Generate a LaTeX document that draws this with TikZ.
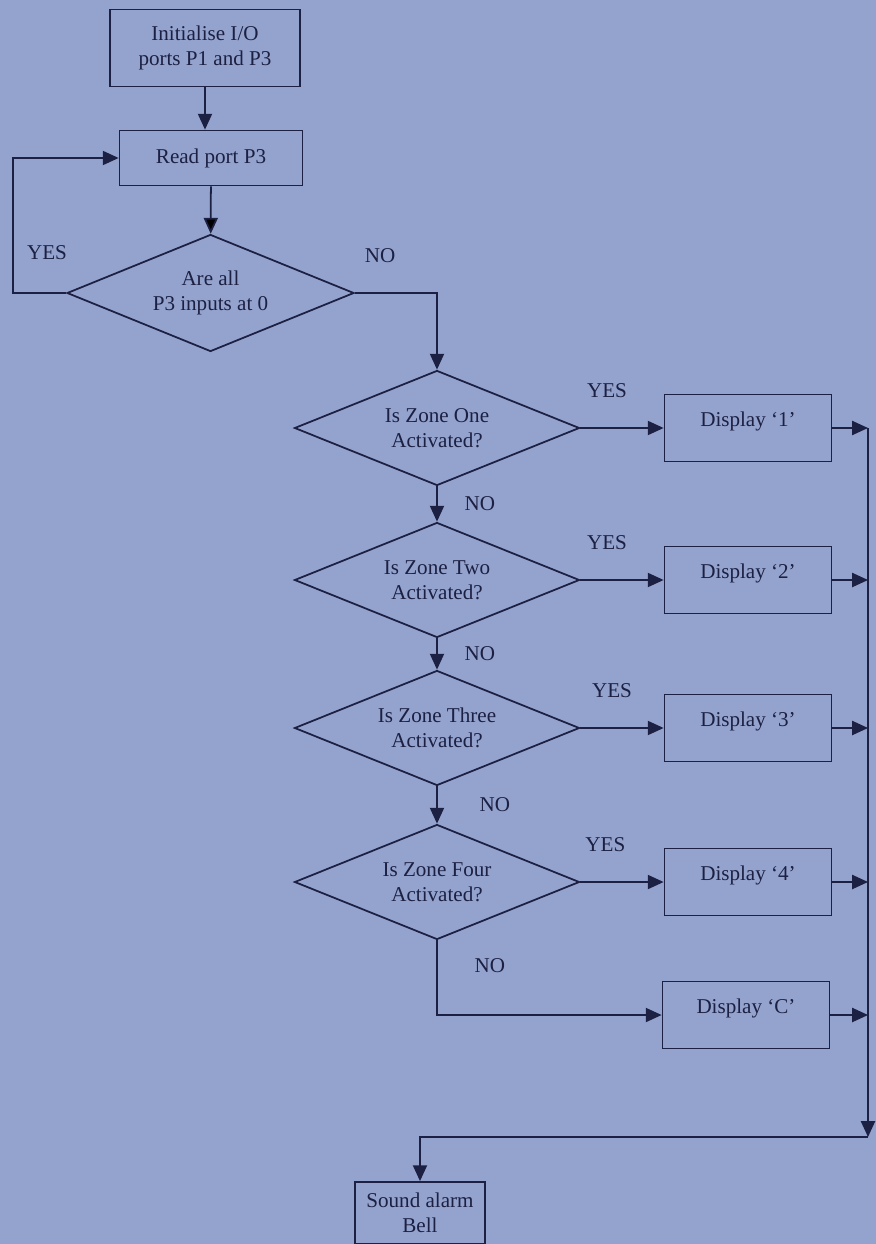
\documentclass[tikz,border=0pt]{standalone}
\usepackage{fontspec}
\setmainfont{Liberation Serif}
\usetikzlibrary{shapes.geometric,arrows.meta}
\definecolor{paper}{RGB}{148,163,206}
\definecolor{ink}{RGB}{28,32,66}
\tikzset{
  txt/.style={text=ink,font=\fontsize{12}{14.5}\selectfont},
  procbox/.style={txt,draw=ink,rectangle,align=center,line width=1pt},
  dispbox/.style={procbox,minimum width=3.34cm,minimum height=1.34cm,text depth=0.35cm},
  decision/.style={txt,draw=ink,diamond,aspect=2.5,align=center,inner sep=1pt,line width=1pt,minimum width=5.7cm,minimum height=2.3cm},
  flow/.style={draw=ink,line width=1pt,-{Triangle[length=9pt,width=8pt]}},
  lbl/.style={txt,inner sep=1pt}
}
\begin{document}
\begin{tikzpicture}
  \fill[paper] (0,0) rectangle (17.52,-24.88);
  \useasboundingbox (0,0) rectangle (17.52,-24.88);

  \node[procbox,minimum width=3.8cm,minimum height=1.54cm] (INIT) at (4.10,-0.96) {Initialise I/O\\ports P1 and P3};
  \node[procbox,minimum width=3.66cm,minimum height=1.10cm] (READ) at (4.22,-3.16) {Read port P3};
  \node[decision,minimum width=5.74cm,minimum height=2.34cm] (ALL0) at (4.21,-5.86) {Are all\\P3 inputs at 0};

  \node[decision] (Z1) at (8.74,-8.56)  {Is Zone One\\Activated?};
  \node[decision] (Z2) at (8.74,-11.60) {Is Zone Two\\Activated?};
  \node[decision] (Z3) at (8.74,-14.56) {Is Zone Three\\Activated?};
  \node[decision] (Z4) at (8.74,-17.64) {Is Zone Four\\Activated?};

  \node[dispbox] (D1) at (14.96,-8.56)  {Display `1'};
  \node[dispbox] (D2) at (14.96,-11.60) {Display `2'};
  \node[dispbox] (D3) at (14.96,-14.56) {Display `3'};
  \node[dispbox] (D4) at (14.96,-17.64) {Display `4'};
  \node[dispbox] (DC) at (14.92,-20.30) {Display `C'};

  \node[procbox,minimum width=2.6cm,minimum height=1.24cm] (BELL) at (8.40,-24.26) {Sound alarm\\Bell};

  \coordinate (BUSTOP) at (17.36,-8.56);
  \coordinate (BUSEND) at (17.36,-22.74);

  \node[lbl] (YES0) at (0.94,-5.06) {YES};
  \node[lbl] (NO0)  at (7.60,-5.12) {NO};

  \draw[flow] (INIT.south) -- (INIT.south |- READ.north);
  \path[flow] (READ) edge (ALL0);
  \draw[flow] (ALL0.west) -- ++(-1.06,0) |- (READ.west);
  \draw[flow] (ALL0.east) -| (Z1.north);

  \draw[flow] (Z1.east) -- node[lbl,pos=0.32,above=0.55cm] (YES1) {YES} (D1.west);
  \draw[flow] (Z2.east) -- node[lbl,pos=0.32,above=0.55cm] (YES2) {YES} (D2.west);
  \draw[flow] (Z3.east) -- node[lbl,pos=0.38,above=0.55cm] (YES3) {YES} (D3.west);
  \draw[flow] (Z4.east) -- node[lbl,pos=0.30,above=0.55cm] (YES4) {YES} (D4.west);

  \draw[flow] (Z1.south) -- node[lbl,right=0.5cm] (NO1) {NO} (Z2.north);
  \draw[flow] (Z2.south) -- node[lbl,right=0.5cm] (NO2) {NO} (Z3.north);
  \draw[flow] (Z3.south) -- node[lbl,right=0.8cm] (NO3) {NO} (Z4.north);
  \draw[flow] (Z4.south) |- node[lbl,pos=0.17,right=0.7cm] (NO4) {NO} (DC.west);

  % outputs join the bus on the right
  \draw[flow] (D1.east) -- (D1.east -| BUSTOP);
  \draw[flow] (D2.east) -- (D2.east -| BUSTOP);
  \draw[flow] (D3.east) -- (D3.east -| BUSTOP);
  \draw[flow] (D4.east) -- (D4.east -| BUSTOP);
  \draw[flow] (DC.east) -- (DC.east -| BUSTOP);

  \draw[flow] (BUSTOP) -- (BUSEND);
  \draw[flow] (BUSEND) -| (BELL.north);
\end{tikzpicture}
\end{document}
